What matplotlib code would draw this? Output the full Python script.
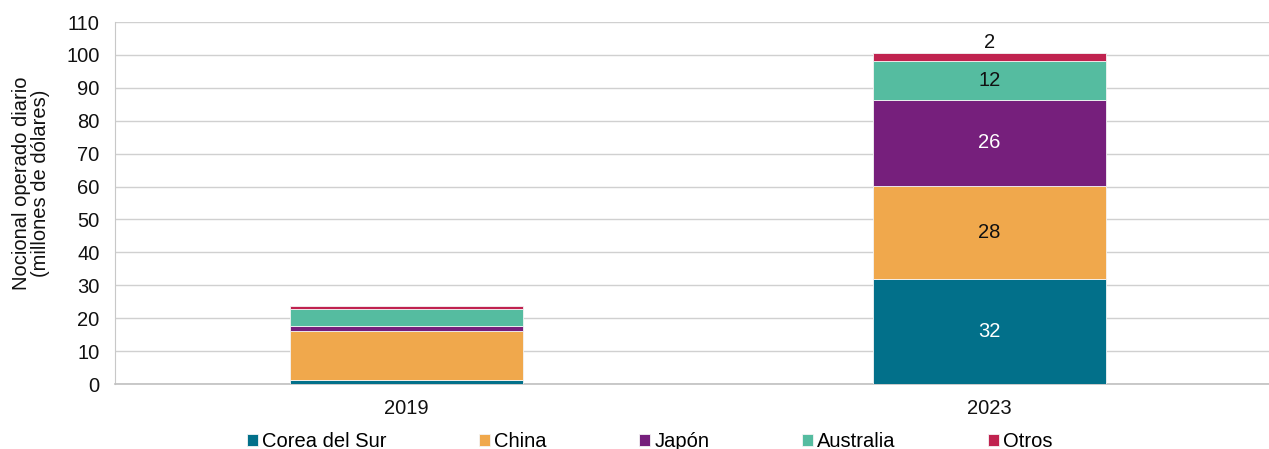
import matplotlib
matplotlib.use("Agg")
import matplotlib.pyplot as plt
import numpy as np

plt.rcParams["font.family"] = ["Liberation Sans", "DejaVu Sans"]

# Daily notional traded, millions of USD
years = ["2019", "2023"]
regions = ["Corea del Sur", "China", "Japón", "Australia", "Otros"]
corea = [1.3, 31.9]
china = [14.9, 28.4]
japon = [1.4, 26.1]
australia = [5.3, 11.9]
otros = [0.8, 2.4]
series = [corea, china, japon, australia, otros]

colors = ["#02708a", "#f0a84c", "#761f7c", "#55bca0", "#c0224f"]
label_colors = ["white", "#111111", "white", "#111111", None]
FS = 14.5

fig = plt.figure(figsize=(12.69, 4.49), dpi=100)
ax = fig.add_axes([115 / 1269, 65 / 449, 1166 / 1269, 362 / 449])

x = np.arange(len(years))
bottom = np.zeros(len(years))
for name, vals, col, lc in zip(regions, series, colors, label_colors):
    vals = np.array(vals)
    ax.bar(x, vals, width=0.4, bottom=bottom, color=col, label=name,
           edgecolor="#f4f4f4", linewidth=0.6, zorder=3)
    # value labels only on the latest year
    i = 1
    if lc is not None:
        ax.text(x[i], bottom[i] + vals[i] / 2, f"{vals[i]:.0f}", ha="center",
                va="center", fontsize=FS, color=lc, zorder=4)
    else:
        ax.text(x[i], bottom[i] + vals[i] + 0.2, f"{vals[i]:.0f}", ha="center",
                va="bottom", fontsize=FS, color="#111111", zorder=4)
    bottom += vals

ax.set_xlim(-0.5, 1.5)
ax.set_ylim(0, 110)
ax.set_yticks(range(0, 111, 10))
ax.set_xticks(x)
ax.set_xticklabels(years)
ax.tick_params(axis="both", length=0, labelsize=FS, colors="#111111")
ax.tick_params(axis="y", pad=11)
ax.tick_params(axis="x", pad=11)
ax.grid(axis="y", color="#d0d0d0", linewidth=1, zorder=0)

for s in ["top", "right"]:
    ax.spines[s].set_visible(False)
ax.spines["left"].set_color("#c8c8c8")
ax.spines["bottom"].set_color("#c0c0c0")
ax.spines["bottom"].set_linewidth(1.2)

ax.set_ylabel("Nocional operado diario\n(millones de dólares)", fontsize=FS,
              color="#111111", linespacing=0.95)
ax.yaxis.set_label_coords(-0.056, 0.555)

fig.legend(loc="lower center", bbox_to_anchor=(0.512, -0.045), ncol=5,
           frameon=False, fontsize=FS, handlelength=0.55, handleheight=0.55,
           handletextpad=0.2, columnspacing=4.6)

fig.savefig("out.png", dpi=100, facecolor="white")
